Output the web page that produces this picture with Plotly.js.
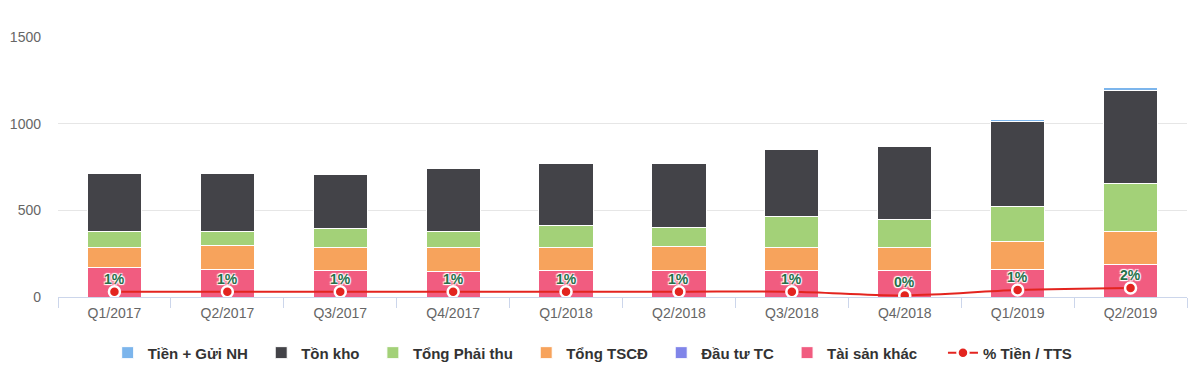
<!DOCTYPE html>
<html>
<head>
<meta charset="utf-8">
<script src="https://cdn.plot.ly/plotly-3.0.1.min.js"></script>
<style>html,body{margin:0;padding:0;background:#fff;}#chart{width:1200px;height:383px;}</style>
</head>
<body>
<div id="chart"></div>
<script>
const categories = ["Q1/2017","Q2/2017","Q3/2017","Q4/2017","Q1/2018","Q2/2018","Q3/2018","Q4/2018","Q1/2019","Q2/2019"];
const tienGuiNH   = [4, 4, 4, 4, 4, 4, 4, 1, 15, 21];
const tonKho      = [337, 335, 306, 366, 356, 372, 388, 421, 486, 535];
const tongPhaiThu = [88, 83, 111, 90, 127, 110, 177, 162, 206, 277];
const tongTSCD    = [119, 140, 133, 138, 134, 136, 134, 134, 163, 192];
const dauTuTC     = [0, 0, 0, 0, 0, 0, 0, 0, 0, 0];
const taiSanKhac  = [169, 156, 154, 148, 154, 154, 154, 154, 156, 185];
const pctTienTTS  = [1.0, 1.0, 1.0, 1.0, 1.0, 1.0, 1.0, 0.3, 1.3, 1.7];
const pctLabels   = ["1%","1%","1%","1%","1%","1%","1%","0%","1%","2%"];

const PAD = "\u00a0\u00a0";
const barLine = {color: "#ffffff", width: 1};
function bar(name, y, color, rank, extra) {
  return {type: "bar", name: name + PAD + (extra || ""), x: categories, y: y, legendrank: rank,
          marker: {color: color, line: barLine}, hoverinfo: "x+y"};
}
const traces = [
  bar("Tài sản khác", taiSanKhac, "#f15c80", 6, "\u00a0\u00a0\u00a0"),
  bar("Đầu tư TC", dauTuTC, "#8085e9", 5),
  bar("Tổng TSCĐ", tongTSCD, "#f7a35c", 4),
  bar("Tổng Phải thu", tongPhaiThu, "#a3d178", 3),
  bar("Tồn kho", tonKho, "#434348", 2),
  bar("Tiền + Gửi NH", tienGuiNH, "#7cb5ec", 1),
  {type: "scatter", mode: "lines+markers", name: "% Tiền / TTS", legendrank: 7,
   x: categories, y: pctTienTTS, yaxis: "y2",
   line: {color: "#e3241f", width: 2, shape: "spline"},
   marker: {color: "#e3241f", size: 11, line: {color: "#ffffff", width: 2.5}}}
];

const annotations = categories.map((c, i) => ({
  x: c, y: pctTienTTS[i], xref: "x", yref: "y2", text: pctLabels[i],
  showarrow: false, yshift: 13, yanchor: "middle", xanchor: "center",
  font: {family: "Liberation Sans, Arial, sans-serif", size: 14, color: "#26704a", weight: "bold",
         shadow: "1px 1px 1px #fff, -1px -1px 1px #fff, 1px -1px 1px #fff, -1px 1px 1px #fff"}
}));

const layout = {
  width: 1200, height: 383,
  margin: {l: 58, r: 13, t: 37, b: 86},
  paper_bgcolor: "#ffffff", plot_bgcolor: "#ffffff",
  barmode: "stack", bargap: 0.52,
  font: {family: "Liberation Sans, Arial, sans-serif", color: "#666666", size: 14},
  showlegend: true,
  legend: {orientation: "h", x: 0.044, xanchor: "left", y: -0.215, yanchor: "middle",
           font: {size: 15, color: "#333333", weight: "bold"}, traceorder: "normal"},
  annotations: annotations,
  xaxis: {type: "category", range: [-0.5, 9.5], automargin: false, showgrid: false, showline: true,
          linecolor: "#ccd6eb", linewidth: 1,
          ticks: "outside", tickson: "boundaries", ticklen: 10, tickcolor: "#ccd6eb",
          ticklabelstandoff: 3,
          tickfont: {size: 14, color: "#666666"}, zeroline: false},
  yaxis: {automargin: false, range: [0, 1500], tickvals: [0, 500, 1000, 1500], showgrid: true, gridcolor: "#e6e6e6",
          zeroline: false, showline: false, ticks: "", ticklabelstandoff: 16,
          tickfont: {size: 14, color: "#666666"}},
  yaxis2: {automargin: false, overlaying: "y", side: "right", range: [0, 49], visible: false, showgrid: false, zeroline: false}
};

Plotly.newPlot("chart", traces, layout, {displayModeBar: false, staticPlot: true});
</script>
</body>
</html>
